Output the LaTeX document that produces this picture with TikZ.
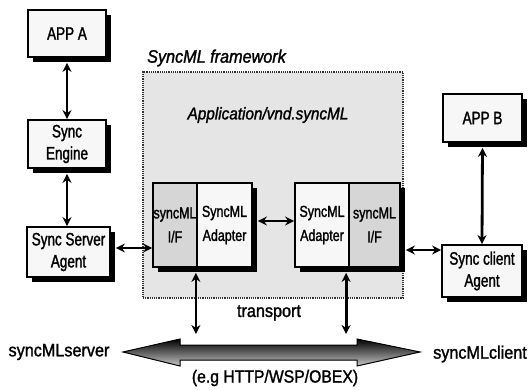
\documentclass[tikz,border=0pt]{standalone}
\usepackage{fontspec}
\setmainfont[FakeStretch=0.9, FakeBold=1.5]{Liberation Sans}
\newfontfamily\boxf[FakeStretch=0.75, FakeBold=1.5]{Liberation Sans}
\newfontfamily\adf[FakeStretch=0.78, FakeBold=1.5]{Liberation Sans}
\usetikzlibrary{shadows,arrows.meta,calc}

\begin{document}
\begin{tikzpicture}[x=1pt,y=-1pt,
  box/.style={draw=black, line width=1.8pt, fill=gray!6, inner sep=0pt, align=center,
    font=\boxf\fontsize{18}{22}\selectfont,
    drop shadow={shadow xshift=5pt, shadow yshift=-5pt, fill=black, opacity=1}},
  part/.style={box, font=\adf\fontsize{16}{24}\selectfont, minimum height=84pt},
  ifpart/.style={part, fill=gray!32},
  conn/.style={line width=2.8pt, {Stealth[length=9pt,width=9pt]}-{Stealth[length=9pt,width=9pt]}},
  lab/.style={font=\fontsize{18}{20}\selectfont, inner sep=0pt}
]
\useasboundingbox (0,0) rectangle (530,390);

% framework
\node[draw=black!80, densely dotted, line width=1.2pt, fill=gray!20, minimum width=260pt, minimum height=226pt, inner sep=0pt] (fw) at (273,185) {};
\node[lab, font=\itshape\fontsize{18}{20}\selectfont, anchor=west] (fwlabel) at (147,58) {SyncML framework};
\node[lab, font=\itshape\fontsize{17}{20}\selectfont] (appl) at (268,115) {Application/vnd.syncML};

% left stack
\node[box, minimum width=78pt, minimum height=47pt] (appa) at (67,33.5) {APP A};
\node[box, minimum width=78pt, minimum height=48pt] (engine) at (67,144) {Sync\\Engine};
\node[box, minimum width=83pt, minimum height=50pt] (server) at (68.5,252) {Sync Server\\Agent};

% adapters
\node[ifpart, minimum width=44pt] (if1) at (175,225) {syncML\\I/F};
\node[part, minimum width=55pt] (ad1) at (224.5,225) {SyncML\\Adapter};
\node[part, minimum width=54pt] (ad2) at (322,225) {SyncML\\Adapter};
\node[ifpart, minimum width=51pt] (if2) at (374.5,225) {syncML\\I/F};

% right stack
\node[box, minimum width=79pt, minimum height=48pt] (appb) at (482.5,118) {APP B};
\node[box, minimum width=80pt, minimum height=52pt] (client) at (482,271) {Sync client\\Agent};

% connectors
\draw[conn, shorten <=5pt] (appa.south) -- (engine.north);
\draw[conn, shorten <=5pt] (engine.south) -- (engine.south |- server.north);
\coordinate (sy) at (0,248);
\draw[conn, shorten <=5pt] (server.east |- sy) -- (if1.west |- sy);
\coordinate (ay) at (0,221);
\draw[conn, shorten <=5pt] (ad1.east |- ay) -- (ad2.west |- ay);
\coordinate (cy) at (0,250);
\draw[conn, shorten <=5pt] (if2.east |- cy) -- (client.west |- cy);
\draw[conn, shorten <=5pt] (appb.south) -- (client.north);

% transport arrows
\coordinate (tb) at (0,334);
\draw[conn, shorten <=5pt] ($(if1.south east)+(-2,0)$) -- ($(if1.south east |- tb)+(-2,0)$);
\draw[conn, shorten <=5pt] ($(if2.south west)+(-2,0)$) -- ($(if2.south west |- tb)+(-2,0)$);
\node[lab] (transport) at (269,313) {transport};

% big transport double arrow
\filldraw[draw=black, line width=1pt, top color=black, bottom color=gray!45]
  (123,352) -- (180,339) -- (180,345) -- (357,345) -- (357,339) -- (420,352)
  -- (357,366) -- (357,360) -- (180,360) -- (180,366) -- cycle;

\node[lab] (srv) at (59,352) {syncMLserver};
\node[lab] (cli) at (480,354) {syncMLclient};
\node[lab, font=\fontsize{17.5}{20}\selectfont] (eg) at (275,378) {(e.g HTTP/WSP/OBEX)};
\end{tikzpicture}
\end{document}
